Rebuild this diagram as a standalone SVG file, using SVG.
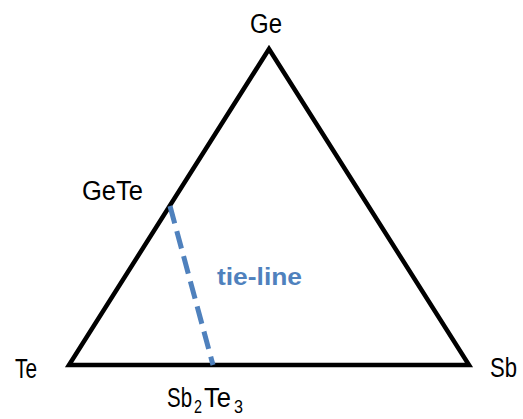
<svg xmlns="http://www.w3.org/2000/svg" width="523" height="419" viewBox="0 0 523 419">
<style>
text{font-family:"Liberation Sans","DejaVu Sans",sans-serif;font-size:27px;fill:#000}
.sub{font-size:18px}
.tie{fill:#4F81BD;font-weight:bold;font-size:23px}
</style>
<rect width="523" height="419" fill="#fff"/>
<g id="triangle">
<polygon points="269,49 69,365 469,365" fill="none" stroke="#000" stroke-width="4.5" stroke-linejoin="miter"/>
</g>
<g id="connectors">
<line x1="170" y1="206" x2="213" y2="365" stroke="#4F81BD" stroke-width="5" stroke-dasharray="18,8"/>
</g>
<g id="node-ge"><text x="250" y="33" textLength="32" lengthAdjust="spacingAndGlyphs">Ge</text></g>
<g id="node-gete"><text x="82" y="200" textLength="61" lengthAdjust="spacingAndGlyphs">GeTe</text></g>
<g id="node-te"><text x="15" y="378" textLength="22" lengthAdjust="spacingAndGlyphs">Te</text></g>
<g id="node-sb"><text x="490" y="377" textLength="27" lengthAdjust="spacingAndGlyphs">Sb</text></g>
<g id="node-sb2te3">
<text x="167" y="407"><tspan textLength="25" lengthAdjust="spacingAndGlyphs">Sb</tspan><tspan class="sub" x="194" y="413" textLength="8" lengthAdjust="spacingAndGlyphs">2</tspan><tspan x="204" y="407" textLength="27" lengthAdjust="spacingAndGlyphs">Te</tspan><tspan class="sub" x="234" y="413" textLength="9" lengthAdjust="spacingAndGlyphs">3</tspan></text>
</g>
<g id="label-tieline"><text class="tie" x="217" y="285" textLength="85" lengthAdjust="spacingAndGlyphs">tie-line</text></g>
</svg>
